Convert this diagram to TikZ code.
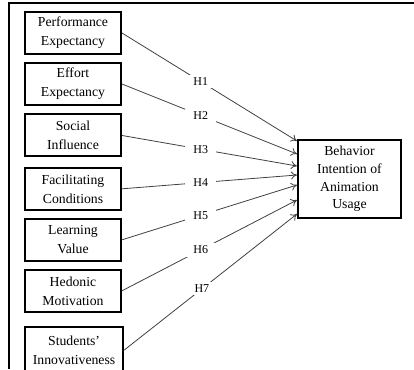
\documentclass[tikz,border=0pt]{standalone}
\usepackage{fontspec}
\setmainfont{Liberation Serif}
\usetikzlibrary{arrows,arrows.meta,positioning}
\tikzstyle{factor} = [draw, line width=1.5pt, minimum width=72pt, minimum height=31.5pt, inner xsep=5.9pt, align=center, font=\fontsize{10.3pt}{14.25pt}\selectfont]
\tikzstyle{target} = [draw, line width=1.5pt, minimum width=77.25pt, minimum height=58.5pt, align=center, font=\fontsize{10.3pt}{13.3pt}\selectfont]
\tikzstyle{hyp} = [->, line width=0.6pt, black!75]
\tikzstyle{hlabel} = [pos=0.45, fill=white, text=black, inner xsep=6pt, inner ysep=2pt, font=\fontsize{9pt}{11pt}\selectfont]

\begin{document}
\begin{tikzpicture}[>={To[length=4.5pt,width=6pt]}]
            \useasboundingbox (0,0) rectangle (310.5pt,-276.75pt);
            % 外框
            \draw[line width=1.5pt] (6.75pt,-276.75pt) |- (310.5pt,-2.5pt);

            % 定义自变量
            \node[factor] (pe) at (54.75pt,-24.75pt) {Performance\\Expectancy};
            \node[factor, below=5.25pt of pe] (ee) {Effort\\Expectancy};
            \node[factor, below=5.6pt of ee] (si) {Social\\Influence};
            \node[factor, below=7pt of si] (fc) {Facilitating\\Conditions};
            \node[factor, below=5.25pt of fc] (lv) {Learning\\Value};
            \node[factor, below=5.25pt of lv] (hm) {Hedonic\\Motivation};
            \node[factor, minimum height=34.5pt, below=10pt of hm.south west, anchor=north west] (inn) {Students'\\Innovativeness};

            % 因变量
            \node[target] (bi) at (262.1pt,-134.25pt) {Behavior\\Intention of\\Animation\\Usage};

            % 假设 H1--H7
            \draw[hyp] (pe.east) -- node[hlabel]{H1} ([yshift=28.5pt]bi.west);
            \draw[hyp] (ee.east) -- node[hlabel]{H2} ([yshift=18.75pt]bi.west);
            \draw[hyp] (si.east) -- node[hlabel]{H3} ([yshift=9.75pt]bi.west);
            \draw[hyp] (fc.east) -- node[hlabel]{H4} ([yshift=3pt]bi.west);
            \draw[hyp] (lv.east) -- node[hlabel]{H5} ([yshift=-4.5pt]bi.west);
            \draw[hyp] (hm.east) -- node[hlabel]{H6} ([yshift=-15.75pt]bi.west);
            \draw[hyp] (inn.east) -- node[hlabel]{H7} ([yshift=-26.25pt]bi.west);
        \end{tikzpicture}
\end{document}
